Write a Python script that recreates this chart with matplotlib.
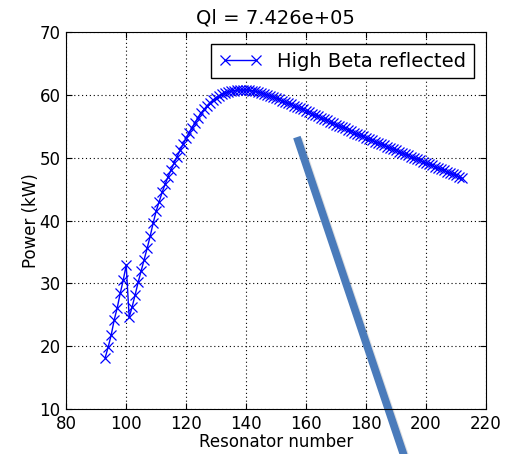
import matplotlib
matplotlib.use('Agg')
import matplotlib.pyplot as plt
import matplotlib.patheffects as pe

# %% Data
resonator = list(range(93, 213))
power = [18.2, 19.9, 21.8, 24.2, 26.1, 28.4, 30.5, 32.9,
         24.6, 26.3, 28.2, 30.2, 32.0, 33.8, 35.6, 37.5, 39.6, 41.5,
         43.0, 44.5, 45.8, 47.0, 48.1, 49.2, 50.2, 51.2, 52.2, 53.1,
         54.0, 54.8, 55.6, 56.4, 57.1, 57.7, 58.3, 58.8, 59.2, 59.6,
         59.9, 60.1, 60.3, 60.5, 60.6, 60.7, 60.8, 60.8, 60.8, 60.8,
         60.8, 60.7, 60.6, 60.5, 60.4, 60.2, 60.0, 59.9, 59.7, 59.5,
         59.3, 59.1, 58.9, 58.7, 58.5, 58.3, 58.1, 57.9, 57.7, 57.5,
         57.3, 57.0, 56.8, 56.6, 56.4, 56.2, 56.0, 55.7, 55.5, 55.3,
         55.1, 54.9, 54.7, 54.5, 54.3, 54.0, 53.8, 53.6, 53.4, 53.2,
         53.0, 52.8, 52.6, 52.4, 52.2, 52.0, 51.8, 51.6, 51.4, 51.3,
         51.0, 50.8, 50.6, 50.4, 50.2, 50.0, 49.8, 49.6, 49.4, 49.2,
         49.0, 48.8, 48.6, 48.4, 48.2, 48.0, 47.8, 47.6, 47.4, 47.2,
         47.0, 46.8]

# stray thick line drawn over the plot
strokeX = [157.0, 196.0]
strokeY = [53.3, -2.0]

title = 'Ql = 7.426e+05'

# %% Plot
fig = plt.figure(figsize=(5.1, 4.54), dpi=100)
ax = fig.add_axes([0.130, 0.099, 0.822, 0.830])

ax.plot(resonator, power, 'b-', marker='x', markersize=6.5, linewidth=1,
        markeredgewidth=0.9, label='High Beta reflected')

ax.plot(strokeX, strokeY, color='#4a7bbb', linewidth=5.6, clip_on=False,
        solid_capstyle='butt',
        path_effects=[pe.SimpleLineShadow(offset=(1.2, -1.2), alpha=0.12),
                      pe.Normal()])

ax.set_xlim(80, 220)
ax.set_ylim(10, 70)
ax.set_xticks(range(80, 221, 20))
ax.set_yticks(range(10, 71, 10))
ax.tick_params(direction='in', top=True, right=True, length=4,
               labelsize=12, pad=4)
ax.grid(True, color='k', linestyle=(0, (1, 2.5)), linewidth=0.8)

ax.set_title(title, fontsize=14)
ax.set_xlabel('Resonator number', fontsize=12, labelpad=0)
ax.set_ylabel('Power (kW)', fontsize=12, labelpad=0)

leg = ax.legend(loc='upper right', fontsize=14, numpoints=2, fancybox=False,
                framealpha=1, edgecolor='k', handlelength=2.2,
                borderaxespad=0.6)
leg.get_frame().set_linewidth(1)

fig.savefig('out.png', dpi=100)
